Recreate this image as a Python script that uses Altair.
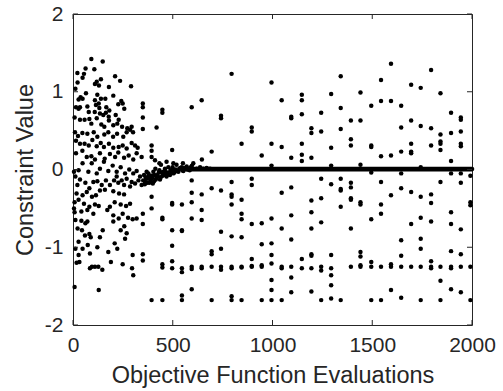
import altair as alt
import pandas as pd

# ---- data ----
# early, widely scattered phase (evaluations 0-350)
early_points = [
    (92, 1.42), (149, 1.39), (107, 1.29), (63, 1.30), (22, 1.24), (55, 1.23), (48, 1.18),
    (211, 1.20), (23, 1.12), (236, 1.14), (140, 1.16), (119, 1.13), (130, 1.08), (110, 1.10),
    (180, 1.06), (291, 1.07), (12, 1.04), (38, 0.93), (28, 0.90), (65, 0.98), (48, 0.91),
    (122, 0.96), (110, 0.89), (162, 0.91), (202, 0.95), (140, 0.91), (242, 0.88), (249, 0.85),
    (227, 0.84), (15, 0.80), (28, 0.78), (35, 0.80), (72, 0.81), (115, 0.83), (129, 0.85),
    (132, 0.79), (167, 0.80), (182, 0.76), (257, 0.78), (79, 0.74), (109, 0.74), (135, 0.72),
    (152, 0.70), (165, 0.73), (179, 0.68), (214, 0.70), (229, 0.64), (8, 0.67), (35, 0.64),
    (58, 0.64), (82, 0.65), (92, 0.59), (119, 0.66), (142, 0.58), (157, 0.55), (180, 0.63),
    (202, 0.57), (222, 0.59), (246, 0.55), (272, 0.53), (286, 0.51), (294, 0.55), (10, 0.48),
    (25, 0.43), (47, 0.47), (72, 0.46), (104, 0.48), (122, 0.42), (157, 0.45), (177, 0.48),
    (201, 0.42), (221, 0.46), (252, 0.42), (269, 0.48), (301, 0.48),
    (15, 0.37), (35, 0.33), (58, 0.33), (79, 0.31), (97, 0.38), (119, 0.30), (139, 0.34),
    (155, 0.29), (180, 0.33), (202, 0.28), (229, 0.29), (249, 0.31), (269, 0.27), (294, 0.34),
    (311, 0.31), (324, 0.28), (15, 0.21), (47, 0.24), (69, 0.16), (92, 0.17), (110, 0.13),
    (135, 0.21), (159, 0.14), (185, 0.20), (211, 0.16), (227, 0.22), (256, 0.15), (279, 0.18),
    (302, 0.13), (319, 0.21), (344, 0.16),
    (5, -0.03), (28, -0.01), (48, 0.08), (77, -0.03), (94, 0.08), (119, -0.05), (135, 0.01),
    (155, 0.10), (177, -0.02), (199, 0.05), (219, -0.03), (239, 0.03), (261, -0.05), (282, 0.00),
    (302, -0.05), (319, -0.02), (336, -0.09), (356, -0.07), (369, -0.03),
    (219, -0.09), (244, -0.14), (269, -0.12), (294, -0.16), (311, -0.18), (328, -0.14),
    (344, -0.20), (361, -0.16), (286, -0.22), (256, -0.20), (227, -0.17), (206, -0.14),
    (12, -0.09), (35, -0.13), (22, -0.20), (62, -0.17), (82, -0.24), (102, -0.16), (122, -0.15),
    (144, -0.20), (165, -0.14), (185, -0.20), (135, -0.27), (160, -0.26), (202, -0.28),
    (231, -0.31), (256, -0.32), (18, -0.31), (48, -0.33), (69, -0.29), (95, -0.35), (115, -0.33),
    (8, -0.42), (28, -0.39), (55, -0.44), (82, -0.48), (110, -0.45), (129, -0.47), (185, -0.48),
    (209, -0.42), (239, -0.45), (266, -0.47), (286, -0.44),
    (5, -0.50), (8, -0.55), (42, -0.54), (72, -0.52), (102, -0.57), (172, -0.52), (202, -0.59),
    (229, -0.63), (249, -0.57), (276, -0.62), (299, -0.64), (319, -0.63),
    (12, -0.65), (42, -0.66), (62, -0.69), (72, -0.67), (23, -0.76), (45, -0.78), (60, -0.85),
    (82, -0.83), (202, -0.67), (239, -0.78), (257, -0.73), (269, -0.82), (261, -0.89),
    (149, -0.78), (135, -0.87), (28, -0.93), (89, -0.87), (74, -0.97), (209, -0.95),
    (222, -1.02), (177, -1.06), (122, -1.00), (85, -1.08), (12, -1.02), (28, -1.10),
    (32, -1.19), (18, -1.20), (8, -1.51), (129, -1.55), (147, -1.29), (127, -1.25), (85, -1.27),
    (95, -1.25), (110, -1.25), (190, -1.19), (249, -1.22), (296, -1.27), (302, -1.36),
    (299, -1.10), (48, -1.02),
]

# converging phase (evaluations 350-700)
converge_points = [
    (352, -0.14), (360, -0.19), (365, -0.10), (372, -0.17), (380, -0.08), (388, -0.15),
    (396, -0.11), (400, -0.18), (408, -0.07), (415, -0.13), (425, -0.09), (430, -0.04),
    (440, -0.10), (445, -0.04), (455, -0.07), (460, -0.02), (472, -0.04), (480, -0.06),
    (492, -0.03), (498, -0.01), (508, -0.04), (515, 0.00), (523, -0.02), (538, 0.02),
    (548, -0.01), (560, 0.02), (575, 0.00), (585, -0.01), (598, 0.01),
    (378, -0.05), (386, -0.12), (394, -0.08), (403, -0.03), (413, 0.01), (423, -0.07),
    (433, -0.01), (441, 0.06), (453, -0.03), (461, 0.01), (469, -0.05), (478, 0.03),
    (489, -0.01), (499, 0.03), (511, -0.02), (519, 0.06), (533, 0.01), (545, 0.03),
    (556, 0.01), (570, 0.04), (583, 0.01), (591, 0.03), (603, 0.08), (620, 0.01),
    (637, 0.03), (653, 0.01), (670, 0.02), (687, 0.01), (370, -0.12), (383, -0.17),
    (406, -0.15), (419, -0.10), (436, -0.13), (449, -0.08), (469, -0.09), (486, -0.07),
    (503, -0.05), (528, -0.03), (553, -0.02), (394, 0.16), (411, 0.12), (433, 0.08),
    (469, 0.10), (503, 0.08), (551, 0.08), (596, 0.05), (646, 0.13),
]

# later, one column of scattered values per generation
late_columns = {
    350: [0.85, 0.80, 0.67, 0.52, -0.57, -0.70, -1.09, -1.17],
    394: [-1.68, 0.31, 0.24, -0.35, -0.50],
    419: [0.54],
    448: [0.73, 0.77, -0.64, -0.62, -1.22, -1.26, -1.68],
    497: [0.25, -0.45, -0.43, -0.78, -0.98, -1.18, -1.27],
    546: [-0.45, -0.78, -0.79, -1.27, -1.32, -1.62, -1.68],
    595: [0.80, -0.14, -0.30, -0.42, -0.63, -1.25, -1.28, -1.54],
    645: [0.89, -0.32, -0.52, -0.65, -1.25, -1.27],
    695: [0.23, -0.24, -1.05, -1.09, -1.68, -1.25],
    742: [0.69, 0.66, -0.27, -0.80, -1.02, -1.25, -1.29],
    795: [1.23, -0.16, -0.32, -0.35, -0.45, -0.86, -1.25, -1.27, -1.63, -1.68],
    845: [0.33, -0.39, -0.57, -0.64, -0.87, -1.25, -1.26, -1.68],
    896: [0.54, 0.49, -0.12, -0.20, -0.70, -1.15, -1.25, -1.24],
    946: [0.18, -0.96, -0.69, -1.23, -1.25, -1.68],
    995: [1.12, 0.33, 0.05, -0.63, -0.95, -1.10, -1.21, -1.42, -1.55, -1.68],
    1046: [0.89, 0.29, -0.30, -0.76, -1.25, -1.27, -1.68],
    1094: [0.68, 0.66, 0.15, -0.23, -0.59, -0.90, -1.25, -1.39, -1.58],
    1147: [0.96, 0.89, 0.71, 0.33, 0.19, 0.11, -1.15, -1.27],
    1195: [0.53, 0.47, 0.15, -0.40, -0.55, -0.76, -1.09, -1.11, -1.27, -1.57],
    1244: [0.73, 0.49, -0.12, -0.37, -0.68, -1.25, -1.30, -1.68],
    1294: [0.97, 0.28, 0.05, -0.19, -1.10, -1.27, -1.36, -1.49, -1.66],
    1342: [1.20, 0.79, 0.52, -0.12, -0.25, -0.27, -0.48, -1.68],
    1393: [0.63, 0.39, 0.31, -0.17, -0.23, -0.37, -0.39, -0.76, -1.25],
    1441: [0.99, 0.63, 0.06, -0.42, -0.45, -1.06, -1.12, -1.25, -1.23],
    1495: [0.82, 0.29, 0.31, -0.04, -0.64, -1.19, -1.25, -1.68],
    1544: [1.15, 0.88, 0.17, -0.16, -0.45, -0.57, -1.25, -1.68],
    1594: [1.36, 0.88, 0.18, -0.33, -1.22, -1.25, -1.55],
    1645: [0.82, 0.54, 0.23, -0.05, -0.24, -0.91, -1.11, -1.25, -1.65],
    1695: [1.09, 0.63, 0.33, 0.23, 0.21, -0.29, -0.70, -1.25],
    1743: [1.05, 0.56, 0.03, -0.35, -0.62, -0.89, -1.02, -1.25, -1.68],
    1795: [1.28, 0.53, 0.31, -0.32, -0.43, -0.67, -1.18, -1.25, -1.27],
    1842: [0.98, 0.45, 0.36, 0.33, 0.25, -0.16, -1.25, -1.43, -1.68],
    1895: [0.73, 0.47, 0.11, -0.05, -0.55, -0.70, -1.05, -1.25, -1.27, -1.54],
    1944: [0.67, 0.64, 0.49, 0.33, 0.30, -0.05, -0.17, -0.77, -1.09, -1.25, -1.58],
    1992: [-0.08, -0.42, -0.46, -1.25, -1.68],
}

# solid run of feasible (zero) constraint values
band_start = 560
band_end = 2000
band_level = 0.005

x_ticks = [0, 500, 1000, 1500, 2000]
y_ticks = [-2, -1, 0, 1, 2]

# ---- build tables ----
rows = [{"evals": x, "value": y} for x, y in early_points + converge_points]
for x, ys in late_columns.items():
    rows += [{"evals": x, "value": y} for y in ys]
df = pd.DataFrame(rows)
band_df = pd.DataFrame({"start": [band_start], "end": [band_end], "level": [band_level]})
xt_df = pd.DataFrame({"t": x_ticks})
yt_df = pd.DataFrame({"t": y_ticks})

W, H = 399, 311
INK = "#262626"
FONT = "Liberation Sans"
TICK = 5

xs = alt.Scale(domain=[0, 2000], nice=False, zero=False)
ysc = alt.Scale(domain=[-2, 2], nice=False, zero=False)

x_axis = alt.Axis(values=x_ticks, title="Objective Function Evaluations",
                  labelExpr="datum.value + ''",
                  labelPadding=9, labelFlush=False,
                  titleBaseline="alphabetic", titleY=57)
y_axis = alt.Axis(values=y_ticks, title="Constraint Value",
                  labelExpr="datum.value + ''",
                  labelPadding=10, labelFlush=False,
                  titleBaseline="alphabetic", titleX=-41)

points = alt.Chart(df).mark_circle(size=20, color="black", opacity=1).encode(
    x=alt.X("evals:Q", scale=xs, axis=x_axis),
    y=alt.Y("value:Q", scale=ysc, axis=y_axis),
)

band = alt.Chart(band_df).mark_rule(color="black", strokeWidth=4.6, strokeCap="round").encode(
    x=alt.X("start:Q", scale=xs),
    x2="end:Q",
    y=alt.Y("level:Q", scale=ysc),
)

tick_style = dict(color=INK, strokeWidth=1)
bottom_ticks = alt.Chart(xt_df).mark_rule(**tick_style).encode(
    x=alt.X("t:Q", scale=xs), y=alt.value(H), y2=alt.value(H - TICK))
top_ticks = alt.Chart(xt_df).mark_rule(**tick_style).encode(
    x=alt.X("t:Q", scale=xs), y=alt.value(0), y2=alt.value(TICK))
left_ticks = alt.Chart(yt_df).mark_rule(**tick_style).encode(
    y=alt.Y("t:Q", scale=ysc), x=alt.value(0), x2=alt.value(TICK))
right_ticks = alt.Chart(yt_df).mark_rule(**tick_style).encode(
    y=alt.Y("t:Q", scale=ysc), x=alt.value(W), x2=alt.value(W - TICK))

chart = alt.layer(points, band, bottom_ticks, top_ticks, left_ticks, right_ticks).properties(
    width=W, height=H,
    autosize=alt.AutoSizeParams(type="none"),
    padding={"left": 73, "top": 14, "right": 31, "bottom": 66},
    background="white",
).configure_view(
    stroke=INK, strokeWidth=1
).configure_axis(
    grid=False, domain=False, ticks=False,
    labelFont=FONT, labelFontSize=21, labelColor=INK,
    titleFont=FONT, titleFontSize=23.5, titleFontWeight="normal", titleColor=INK,
)

chart.save("out.html", embed_options={"renderer": "svg", "actions": False})
